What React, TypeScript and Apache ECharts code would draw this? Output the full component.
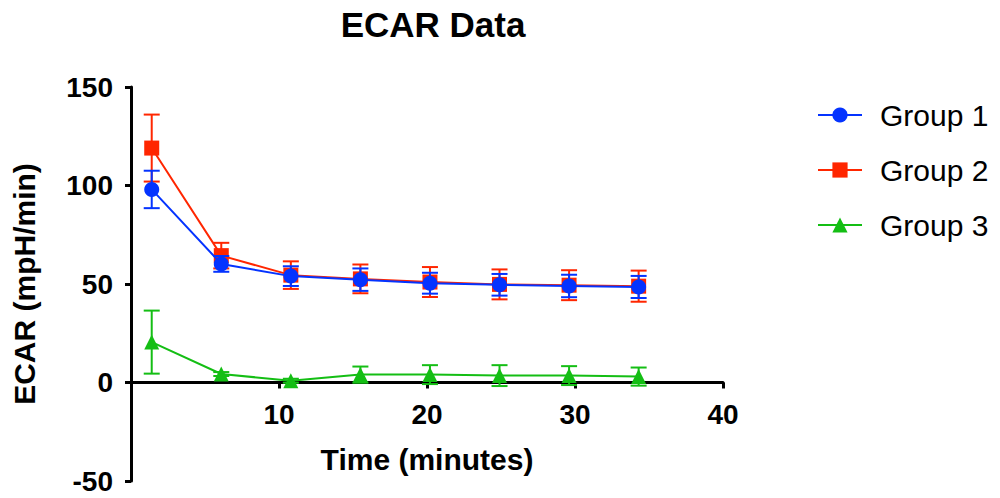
import React, { useEffect, useRef } from "react";
import * as echarts from "echarts";

const timePoints = [1.4, 6.1, 10.8, 15.5, 20.2, 24.9, 29.6, 34.3];
const group1 = [98, 60.2, 54, 52.2, 50.4, 49.6, 49, 48.5];
const group1Err = [9.5, 4, 5, 5.7, 5.3, 5.5, 5.7, 5.6];
const group2 = [119, 64.4, 54.5, 52.6, 51, 49.8, 49.4, 48.9];
const group2Err = [17, 6.5, 7, 7.3, 7.6, 7.6, 7.6, 7.9];
const group3 = [20.5, 4.3, 0.9, 4, 4, 3.5, 3.5, 3];
const group3Err = [16, 1, 1, 4.1, 4.8, 5.3, 4.8, 4.6];
const seriesNames = ["Group 1", "Group 2", "Group 3"];
const yTicks = { min: -50, max: 150, interval: 50 };
const xTicks = { min: 0, max: 40, interval: 10 };

const BLUE = "#0433FF";
const RED = "#FF2600";
const GREEN = "#14BE14";
const FONT = "'Liberation Sans', Arial, Helvetica, sans-serif";

const GRID_TOP = 87;
const GRID_BOTTOM = 17;
const CHART_H = 498;

function errSeries(name: string, ys: number[], errs: number[], color: string, z: number) {
  return {
    type: "custom",
    name,
    z,
    silent: true,
    data: timePoints.map((x, i) => [x, ys[i] - errs[i], ys[i] + errs[i]]),
    encode: { x: 0, y: [1, 2] },
    renderItem: (_params: any, api: any) => {
      const lo = api.coord([api.value(0), api.value(1)]);
      const hi = api.coord([api.value(0), api.value(2)]);
      const hw = 8;
      const st = { stroke: color, lineWidth: 2 };
      return {
        type: "group",
        children: [
          { type: "line", shape: { x1: lo[0], y1: lo[1], x2: hi[0], y2: hi[1] }, style: st },
          { type: "line", shape: { x1: lo[0] - hw, y1: lo[1], x2: lo[0] + hw, y2: lo[1] }, style: st },
          { type: "line", shape: { x1: hi[0] - hw, y1: hi[1], x2: hi[0] + hw, y2: hi[1] }, style: st },
        ],
      };
    },
  };
}

function lineSeries(name: string, ys: number[], color: string, symbol: string, z: number) {
  return {
    type: "line",
    name,
    z,
    symbol,
    symbolSize: 15,
    showAllSymbol: true,
    data: timePoints.map((x, i) => [x, ys[i]]),
    itemStyle: { color },
    lineStyle: { color, width: 2 },
    emphasis: { disabled: true },
  };
}

export default function App() {
  const ref = useRef<HTMLDivElement>(null);
  useEffect(() => {
    if (!ref.current) return;
    const chart = echarts.init(ref.current, null, { renderer: "svg" });
    const plotH = CHART_H - GRID_TOP - GRID_BOTTOM;
    const zeroOffset = -plotH * ((0 - yTicks.min) / (yTicks.max - yTicks.min));
    chart.setOption({
      animation: false,
      backgroundColor: "#ffffff",
      title: {
        text: "ECAR Data",
        left: 428,
        top: 2,
        textAlign: "center",
        textStyle: { fontFamily: FONT, fontWeight: "bold", fontSize: 35, color: "#000" },
      },
      legend: {
        orient: "vertical",
        left: 812,
        top: 95,
        itemWidth: 44,
        itemHeight: 19,
        itemGap: 25,
        data: seriesNames,
        textStyle: {
          fontFamily: FONT,
          fontSize: 30,
          lineHeight: 30,
          color: "#000",
          padding: [0, 0, 0, 13],
        },
      },
      grid: { left: 131, right: 277, top: GRID_TOP, bottom: GRID_BOTTOM, containLabel: false, outerBoundsMode: "none" },
      xAxis: {
        type: "value",
        min: xTicks.min,
        max: xTicks.max,
        interval: xTicks.interval,
        position: "bottom",
        offset: zeroOffset,
        name: "Time (minutes)",
        nameLocation: "middle",
        nameGap: 62,
        nameTextStyle: { fontFamily: FONT, fontWeight: "bold", fontSize: 30, color: "#000" },
        axisLine: { onZero: false, lineStyle: { color: "#000", width: 3 } },
        axisTick: { show: true, length: 6, lineStyle: { color: "#000", width: 3 } },
        axisLabel: {
          margin: 18,
          fontFamily: FONT,
          fontWeight: "bold",
          fontSize: 28,
          color: "#000",
          formatter: (v: number) => (v === 0 ? "" : String(v)),
        },
        splitLine: { show: false },
      },
      yAxis: {
        type: "value",
        min: yTicks.min,
        max: yTicks.max,
        interval: yTicks.interval,
        name: "ECAR (mpH/min)",
        nameLocation: "middle",
        nameGap: 92,
        nameTextStyle: { fontFamily: FONT, fontWeight: "bold", fontSize: 30, color: "#000" },
        axisLine: { show: true, onZero: false, lineStyle: { color: "#000", width: 3 } },
        axisTick: { show: true, length: 6, lineStyle: { color: "#000", width: 3 } },
        axisLabel: { margin: 18, fontFamily: FONT, fontWeight: "bold", fontSize: 28, color: "#000" },
        splitLine: { show: false },
      },
      series: [
        errSeries("Group 3 err", group3, group3Err, GREEN, 2),
        lineSeries("Group 3", group3, GREEN, "triangle", 3),
        errSeries("Group 2 err", group2, group2Err, RED, 4),
        lineSeries("Group 2", group2, RED, "rect", 5),
        errSeries("Group 1 err", group1, group1Err, BLUE, 6),
        lineSeries("Group 1", group1, BLUE, "circle", 7),
      ],
    });
    return () => chart.dispose();
  }, []);
  return <div ref={ref} style={{ width: 1000, height: 498, position: "absolute", left: 0, top: 0 }} />;
}
